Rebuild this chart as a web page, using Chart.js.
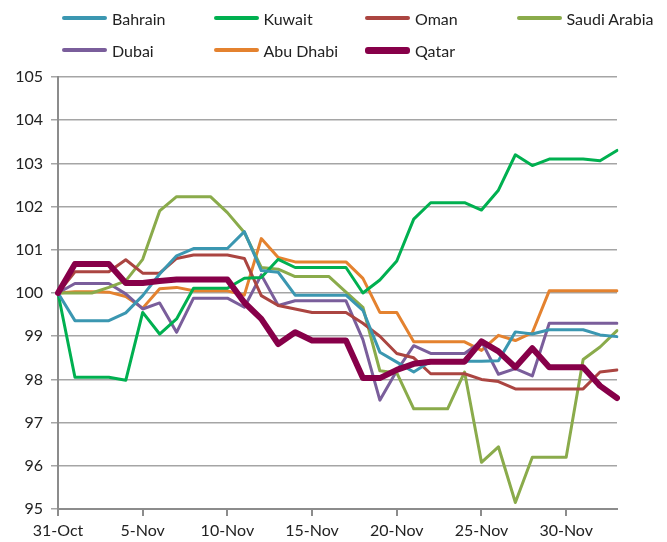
<!DOCTYPE html>
<html>
<head>
<meta charset="utf-8">
<script src="https://cdn.jsdelivr.net/npm/chart.js@4"></script>
<style>
    html, body { margin: 0; padding: 0; background: #fff; }
    #wrap { position: relative; width: 667px; height: 542px; }
    #legend { position: absolute; left: 62px; top: 0; width: 620px; font-family: Lato, "Liberation Sans", sans-serif; font-size: 16px; color: #222; }
    .item { position: absolute; display: flex; align-items: center; height: 20px; }
    .swatch { width: 45px; margin-right: 5px; border-radius: 3px; }
</style>
</head>
<body>
<div id="wrap">
    <canvas id="chart" width="667" height="542"></canvas>
    <div id="legend"></div>
</div>
<script>
// =============================================================
// DATA (index 0 = 31-Oct, daily to 3-Dec)
// =============================================================
const dates = ["31-Oct",
    "1-Nov","2-Nov","3-Nov","4-Nov","5-Nov","6-Nov","7-Nov","8-Nov","9-Nov","10-Nov",
    "11-Nov","12-Nov","13-Nov","14-Nov","15-Nov","16-Nov","17-Nov","18-Nov","19-Nov","20-Nov",
    "21-Nov","22-Nov","23-Nov","24-Nov","25-Nov","26-Nov","27-Nov","28-Nov","29-Nov","30-Nov",
    "1-Dec","2-Dec","3-Dec"];

const bahrain  = [100, 99.36, 99.36, 99.36, 99.54, 99.94, 100.44, 100.86, 101.03, 101.03, 101.03,
                  101.42, 100.52, 100.48, 99.95, 99.95, 99.95, 99.95, 99.6, 98.63, 98.4,
                  98.17, 98.42, 98.42, 98.42, 98.42, 98.43, 99.1, 99.05, 99.15, 99.15,
                  99.15, 99.03, 98.99];
const kuwait   = [100, 98.05, 98.05, 98.05, 97.98, 99.55, 99.05, 99.4, 100.11, 100.11, 100.11,
                  100.34, 100.36, 100.78, 100.59, 100.59, 100.59, 100.59, 100.0, 100.3, 100.74,
                  101.71, 102.09, 102.09, 102.09, 101.92, 102.38, 103.2, 102.95, 103.1, 103.1,
                  103.1, 103.06, 103.3];
const oman     = [100, 100.49, 100.49, 100.49, 100.77, 100.46, 100.46, 100.8, 100.88, 100.88, 100.88,
                  100.8, 99.94, 99.71, 99.63, 99.55, 99.55, 99.55, 99.3, 99.0, 98.6,
                  98.5, 98.13, 98.13, 98.13, 98.0, 97.95, 97.78, 97.78, 97.78, 97.78,
                  97.78, 98.17, 98.22];
const saudi    = [100, 100, 100, 100.13, 100.28, 100.78, 101.9, 102.23, 102.23, 102.23, 101.86,
                  101.4, 100.59, 100.55, 100.38, 100.38, 100.38, 100.02, 99.67, 98.2, 98.15,
                  97.32, 97.32, 97.32, 98.17, 96.08, 96.44, 95.15, 96.2, 96.2, 96.2,
                  98.46, 98.75, 99.13];
const dubai    = [100, 100.22, 100.22, 100.22, 99.98, 99.63, 99.77, 99.09, 99.88, 99.88, 99.88,
                  99.67, 100.42, 99.71, 99.82, 99.82, 99.82, 99.82, 98.92, 97.52, 98.2,
                  98.78, 98.6, 98.6, 98.6, 98.88, 98.12, 98.25, 98.08, 99.3, 99.3,
                  99.3, 99.3, 99.3];
const abuDhabi = [100, 100.03, 100.03, 100.02, 99.92, 99.65, 100.1, 100.13, 100.05, 100.05, 100.05,
                  99.95, 101.26, 100.82, 100.72, 100.72, 100.72, 100.72, 100.34, 99.55, 99.55,
                  98.87, 98.87, 98.87, 98.87, 98.67, 99.02, 98.9, 99.08, 100.05, 100.05,
                  100.05, 100.05, 100.05];
const qatar    = [100, 100.67, 100.67, 100.67, 100.23, 100.23, 100.28, 100.31, 100.31, 100.31, 100.31,
                  99.78, 99.4, 98.82, 99.09, 98.9, 98.9, 98.9, 98.03, 98.03, 98.22,
                  98.36, 98.41, 98.41, 98.41, 98.88, 98.65, 98.28, 98.72, 98.28, 98.28,
                  98.28, 97.85, 97.57];

const series = [
    { label: "Bahrain",      data: bahrain,  color: "#3b97b1", width: 3 },
    { label: "Kuwait",       data: kuwait,   color: "#00b050", width: 3 },
    { label: "Oman",         data: oman,     color: "#ab4541", width: 3 },
    { label: "Saudi Arabia", data: saudi,    color: "#8aab4b", width: 3 },
    { label: "Dubai",        data: dubai,    color: "#7a5e9b", width: 3 },
    { label: "Abu Dhabi",    data: abuDhabi, color: "#e4822f", width: 3 },
    { label: "Qatar",        data: qatar,    color: "#870049", width: 6 }
];

// =============================================================
// LEGEND (fixed columns, two rows)
// =============================================================
const legendEl = document.getElementById("legend");
series.forEach((s, i) => {
    const col = i < 4 ? i : i - 4;
    const row = i < 4 ? 0 : 1;
    legendEl.insertAdjacentHTML('beforeend', `
        <div class="item" style="left:${col * 151.5}px; top:${8 + row * 32}px">
            <div class="swatch" style="height:${s.width === 6 ? 7 : 4}px; background:${s.color}"></div>
            <span>${s.label}</span>
        </div>
    `);
});

// =============================================================
// CHART
// =============================================================
const gridGray = "#a5a5a5";
const font = { family: "Lato, 'Liberation Sans', sans-serif", size: 16 };

new Chart(document.getElementById("chart"), {
    type: 'line',
    data: {
        labels: dates,
        datasets: series.map((s, i) => ({
            label: s.label,
            data: s.data,
            borderColor: s.color,
            backgroundColor: s.color,
            borderWidth: s.width,
            pointRadius: 0,
            tension: 0,
            borderJoinStyle: 'round',
            borderCapStyle: 'round',
            order: s.label === "Qatar" ? 0 : i + 1
        }))
    },
    options: {
        responsive: false,
        animation: false,
        layout: { padding: { top: 77, right: 50, left: 0, bottom: 0 } },
        plugins: { legend: { display: false }, tooltip: { enabled: false } },
        scales: {
            x: {
                offset: false,
                border: { color: "#8c8c8c", width: 2 },
                grid: { drawOnChartArea: false, drawTicks: true, tickLength: 7, color: "#8c8c8c", lineWidth: 2 },
                ticks: {
                    autoSkip: false, maxRotation: 0, color: "#222", font: font, padding: 5,
                    callback: (v, i) => i % 5 === 0 ? dates[i] : null
                },
                afterFit: (s) => { s.height = 33; }
            },
            y: {
                min: 95, max: 105,
                border: { color: "#8c8c8c", width: 2 },
                grid: { color: gridGray, lineWidth: 1.5, tickLength: 7 },
                ticks: { stepSize: 1, color: "#222", font: font, padding: 8 },
                afterFit: (s) => { s.width = 58; }
            }
        }
    }
});
</script>
</body>
</html>
